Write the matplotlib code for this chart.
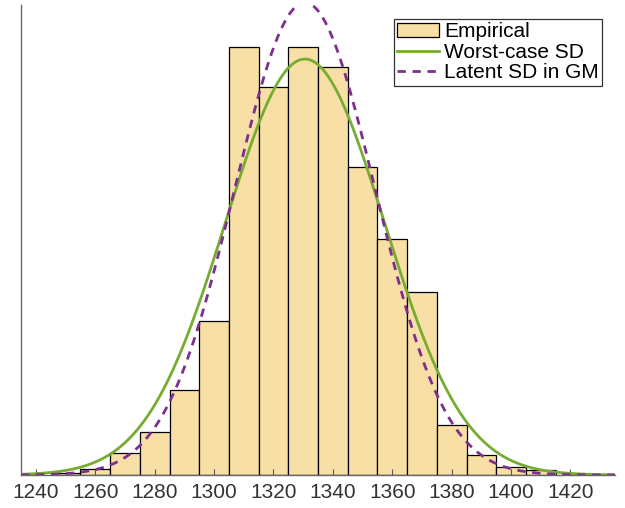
import numpy as np
import matplotlib
matplotlib.use("Agg")
import matplotlib.pyplot as plt

plt.rcParams['font.family'] = ['Liberation Sans', 'DejaVu Sans']

# Histogram data (bin edges of width 10)
bin_edges = [1245, 1255, 1265, 1275, 1285, 1295, 1305, 1315, 1325, 1335,
             1345, 1355, 1365, 1375, 1385, 1395, 1405, 1415]
counts = [0.6, 2, 7.8, 15.3, 30.3, 55.2, 153, 139, 153, 146,
          110.3, 84.3, 65.6, 17.9, 7.2, 2.8, 1.8]

n_total = 1000
bin_width = 10
mean_val = 1330.6
sd_worst = 26.8
sd_latent = 23.6

xticks = [1240, 1260, 1280, 1300, 1320, 1340, 1360, 1380, 1400, 1420]
legend_labels = ["Empirical", "Worst-case SD", "Latent SD in GM"]

fig = plt.figure(figsize=(6.25, 5.08), dpi=100)
ax = fig.add_axes([21/625, 33/508, 594/625, 470/508])

lefts = np.array(bin_edges[:-1])
widths = np.diff(bin_edges)
bars = ax.bar(lefts, counts, width=widths, align='edge', color='#F8DFA6',
              edgecolor='black', linewidth=0.9)

x = np.linspace(1235, 1435, 600)
def npdf(x, m, s):
    return n_total * bin_width * np.exp(-0.5 * ((x - m) / s) ** 2) / (s * np.sqrt(2 * np.pi))

l1, = ax.plot(x, npdf(x, mean_val, sd_worst), color='#77AC30', lw=2.0)
l2, = ax.plot(x, npdf(x, mean_val, sd_latent), color='#7E2F8E', lw=2.0,
              dashes=(3, 2.4))

ax.set_xlim(1235, 1435)
ax.set_ylim(0, npdf(mean_val, mean_val, sd_latent) * 0.995)
ax.set_xticks(xticks)
ax.set_yticks([])
ax.tick_params(axis='x', direction='in', length=4, width=0.8,
               colors='#555555', labelcolor='#333333', labelsize=15, pad=6)
for s in ['top', 'right']:
    ax.spines[s].set_visible(False)
for s in ['left', 'bottom']:
    ax.spines[s].set_color('#666666')
    ax.spines[s].set_linewidth(1.0)

leg = ax.legend([bars, l1, l2], legend_labels,
                loc='upper right', bbox_to_anchor=(602/625, 1 - 19/508),
                bbox_transform=fig.transFigure, fontsize=15, frameon=True,
                fancybox=False, framealpha=1, edgecolor='#333333',
                handlelength=2.0, handletextpad=0.25, labelspacing=0.08,
                borderpad=0.15, borderaxespad=0)
leg.get_frame().set_linewidth(0.9)

fig.savefig("out.png", dpi=100)
